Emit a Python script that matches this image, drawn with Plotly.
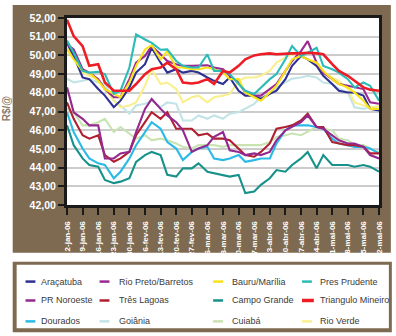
import plotly.graph_objects as go

# ---------------- data ----------------
dates = [
    "2006-01-02", "2006-01-05", "2006-01-09", "2006-01-12", "2006-01-16", "2006-01-19",
    "2006-01-23", "2006-01-26", "2006-01-30", "2006-02-02", "2006-02-06", "2006-02-09",
    "2006-02-13", "2006-02-16", "2006-02-20", "2006-02-23", "2006-02-27", "2006-03-02",
    "2006-03-06", "2006-03-09", "2006-03-13", "2006-03-16", "2006-03-20", "2006-03-23",
    "2006-03-27", "2006-03-30", "2006-04-03", "2006-04-06", "2006-04-10", "2006-04-13",
    "2006-04-17", "2006-04-20", "2006-04-24", "2006-04-27", "2006-05-01", "2006-05-04",
    "2006-05-08", "2006-05-11", "2006-05-15", "2006-05-18", "2006-05-22",
]

tick_dates = [
    "2006-01-02", "2006-01-09", "2006-01-16", "2006-01-23", "2006-01-30", "2006-02-06",
    "2006-02-13", "2006-02-20", "2006-02-27", "2006-03-06", "2006-03-13", "2006-03-20",
    "2006-03-27", "2006-04-03", "2006-04-10", "2006-04-17", "2006-04-24", "2006-05-01",
    "2006-05-08", "2006-05-15", "2006-05-22",
]
tick_labels = [
    "2-jan-06", "9-jan-06", "16-jan-06", "23-jan-06", "30-jan-06", "6-fev-06",
    "13-fev-06", "20-fev-06", "27-fev-06", "6-mar-06", "13-mar-06", "20-mar-06",
    "27-mar-06", "3-abr-06", "10-abr-06", "17-abr-06", "24-abr-06", "1-mai-06",
    "8-mai-06", "15-mai-06", "22-mai-06",
]

aracatuba = [50.67, 49.97, 48.82, 48.73, 48.20, 47.85, 47.23, 47.58, 48.29, 49.08,
             49.53, 50.41, 49.61, 49.08, 49.26, 49.08, 49.17, 49.08, 48.82, 48.64,
             48.47, 48.82, 48.11, 47.85, 47.85, 47.67, 47.94, 48.11, 48.73, 49.44,
             49.97, 49.79, 49.44, 48.91, 48.47, 48.11, 48.02, 48.02, 47.85, 47.14, 47.05]
rio_preto = [50.59, 50.32, 49.26, 49.08, 48.73, 48.20, 47.76, 47.76, 48.73, 49.61,
             49.97, 50.50, 50.06, 49.70, 49.53, 49.44, 49.44, 49.44, 49.47, 49.35,
             49.26, 48.91, 48.55, 48.02, 47.85, 47.85, 48.20, 48.47, 49.17, 49.70,
             50.23, 50.76, 49.61, 49.08, 48.73, 48.47, 48.38, 48.29, 48.20, 47.49, 47.41]
bauru = [50.32, 49.79, 49.17, 49.08, 48.64, 48.20, 47.94, 47.76, 48.55, 49.44,
         50.32, 50.55, 49.79, 50.23, 49.35, 49.35, 49.26, 49.26, 49.35, 49.26,
         49.08, 48.73, 48.73, 48.02, 47.76, 47.58, 48.02, 48.38, 49.17, 49.79,
         49.97, 49.79, 49.61, 49.17, 48.73, 48.47, 48.29, 48.02, 47.58, 47.14, 47.14]
pres_prudente = [50.80, 50.14, 49.17, 49.08, 49.12, 49.00, 47.94, 48.11, 49.35, 51.12,
                 50.85, 50.67, 50.30, 50.32, 49.70, 49.44, 49.35, 49.35, 50.06, 49.17,
                 49.17, 49.00, 48.47, 48.11, 47.94, 48.29, 48.73, 49.00, 49.79, 50.50,
                 49.97, 50.14, 50.41, 49.44, 49.26, 49.08, 48.73, 48.29, 48.55, 48.38, 47.58]
pr_noroeste = [48.29, 46.96, 46.61, 46.26, 46.26, 44.49, 44.49, 44.76, 44.84, 45.90,
               47.14, 47.67, 47.14, 46.79, 46.43, 45.99, 44.84, 45.02, 45.20, 45.64,
               45.90, 44.93, 44.84, 44.67, 44.76, 44.67, 44.84, 45.46, 45.99, 46.17,
               46.43, 46.79, 46.17, 46.08, 45.73, 45.46, 45.29, 45.29, 45.11, 44.67, 44.49]
tres_lagoas = [47.49, 46.61, 45.73, 45.55, 45.73, 44.67, 44.31, 44.49, 44.84, 45.73,
               46.43, 46.96, 46.61, 46.96, 46.08, 46.08, 46.08, 45.73, 45.82, 45.55,
               45.55, 45.46, 45.02, 44.67, 44.58, 44.84, 45.29, 46.08, 46.17, 46.26,
               46.52, 46.88, 46.17, 46.17, 45.37, 45.29, 45.20, 45.20, 45.11, 44.76, 44.76]
campo_grande = [46.26, 45.20, 44.49, 44.14, 44.05, 43.34, 43.17, 43.25, 43.43, 44.31,
                44.67, 44.84, 44.67, 43.61, 43.52, 43.96, 43.96, 44.23, 43.78, 43.70,
                43.61, 43.52, 43.61, 42.64, 42.72, 43.08, 43.43, 43.87, 43.78, 44.14,
                44.49, 44.84, 43.96, 44.67, 44.14, 44.14, 44.14, 44.05, 44.14, 44.05, 43.78]
triangulo = [51.91, 51.03, 50.50, 49.44, 49.53, 48.55, 48.11, 48.11, 48.11, 48.47,
             49.00, 49.26, 49.35, 49.61, 49.26, 48.55, 48.50, 48.55, 48.73, 48.47,
             49.17, 49.08, 49.44, 49.79, 50.00, 50.06, 50.11, 50.06, 50.11, 50.11,
             50.11, 50.14, 50.11, 50.06, 49.53, 49.17, 48.91, 48.64, 48.29, 48.17, 48.11]
dourados = [46.96, 45.90, 45.02, 44.49, 44.23, 44.14, 43.43, 43.78, 44.49, 45.20,
            45.90, 46.43, 46.08, 45.37, 45.02, 44.40, 44.84, 45.02, 45.11, 44.49,
            44.40, 44.49, 44.67, 44.31, 44.40, 44.49, 44.49, 45.29, 45.99, 46.26,
            46.26, 46.26, 46.17, 46.08, 45.55, 45.29, 45.20, 45.11, 45.11, 45.02, 44.76]
goiania = [48.75, 48.55, 48.64, 48.73, 48.55, 48.47, 47.58, 47.32, 46.88, 47.32,
           47.41, 47.58, 47.23, 47.49, 47.41, 46.52, 46.52, 46.79, 46.61, 46.79,
           46.61, 46.88, 46.96, 47.14, 47.41, 47.76, 47.94, 48.29, 48.55, 48.76,
           48.82, 48.91, 48.82, 48.55, 48.47, 48.20, 48.02, 47.23, 47.14, 47.23, 47.14]
cuiaba = [47.14, 46.96, 46.26, 46.26, 46.43, 46.61, 45.90, 46.17, 45.82, 45.55,
          45.73, 45.46, 45.55, 45.46, 45.29, 45.11, 45.02, 45.20, 45.20, 45.20,
          45.11, 45.20, 45.20, 45.20, 45.20, 45.20, 45.37, 45.64, 45.73, 45.82,
          45.73, 45.90, 46.17, 46.08, 45.99, 45.55, 45.46, 45.20, 45.20, 45.02, 44.84]
rio_verde = [50.41, 49.97, 49.08, 48.91, 48.73, 48.20, 47.58, 47.23, 47.32, 47.49,
             48.38, 49.26, 48.47, 48.55, 48.20, 47.49, 47.76, 47.85, 47.49, 47.76,
             47.85, 47.94, 48.64, 48.82, 48.82, 48.91, 49.17, 49.61, 49.88, 50.06,
             49.97, 49.79, 49.44, 49.08, 48.82, 48.64, 48.20, 47.49, 47.32, 47.23, 47.28]

# name, values, colour  (drawing order: light lines first, red on top)
series = [
    ("Goiânia", goiania, "#c2e4e6"),
    ("Rio Verde", rio_verde, "#f9ef8e"),
    ("Cuiabá", cuiaba, "#c9e3b3"),
    ("Campo Grande", campo_grande, "#16928a"),
    ("Dourados", dourados, "#2bb9e8"),
    ("Três Lagoas", tres_lagoas, "#b01f30"),
    ("PR Noroeste", pr_noroeste, "#93288f"),
    ("Araçatuba", aracatuba, "#2e3192"),
    ("Rio Preto/Barretos", rio_preto, "#9a2a92"),
    ("Bauru/Marília", bauru, "#f7e318"),
    ("Pres Prudente", pres_prudente, "#2bbcb8"),
    ("Triangulo Mineiro", triangulo, "#ee1c25"),
]
colors = {n: c for n, _, c in series}

legend_grid = [
    ["Araçatuba", "Rio Preto/Barretos", "Bauru/Marília", "Pres Prudente"],
    ["PR Noroeste", "Três Lagoas", "Campo Grande", "Triangulo Mineiro"],
    ["Dourados", "Goiânia", "Cuiabá", "Rio Verde"],
]

# ---------------- layout geometry (pixels) ----------------
W_TOT, H_TOT = 396, 336
L, R, T, B = 67, 13, 17, 131
PW, PH = W_TOT - L - R, H_TOT - T - B


def px(x):
    return (x - L) / PW


def py(y):
    return (H_TOT - B - y) / PH


BROWN = "#7e6a50"
NARROW = "Liberation Sans Narrow, Arial Narrow, Liberation Sans, sans-serif"

fig = go.Figure()
for name, vals, col in series:
    fig.add_trace(go.Scatter(
        x=dates, y=vals, name=name, mode="lines",
        line=dict(color=col, width=2.6 if name == "Triangulo Mineiro" else 2.1),
        showlegend=False, hoverinfo="skip",
    ))

shapes = [
    # brown chart panel
    dict(type="rect", xref="paper", yref="paper", x0=px(12), x1=px(395), y0=py(253), y1=py(4),
         fillcolor=BROWN, line=dict(width=0), layer="below"),
    # white plotting area
    dict(type="rect", xref="paper", yref="paper", x0=0, x1=1, y0=0, y1=1,
         fillcolor="white", line=dict(width=0), layer="below"),
    # legend box
    dict(type="rect", xref="paper", yref="paper", x0=px(12), x1=px(396), y0=py(333), y1=py(262),
         fillcolor=BROWN, line=dict(width=0), layer="below"),
    dict(type="rect", xref="paper", yref="paper", x0=px(16), x1=px(393), y0=py(329), y1=py(265),
         fillcolor="white", line=dict(width=0), layer="below"),
]

annotations = [
    dict(text="<b>R$/@</b>", x=px(6), y=py(108), xref="paper", yref="paper", showarrow=False,
         textangle=-90, font=dict(family=NARROW, size=10, color="#8a7a68"),
         xanchor="center", yanchor="middle"),
]

col_line_x = [25, 100, 215, 305]
col_text_x = [39, 118, 232, 321]
row_y = [282, 301, 322]
for r, row in enumerate(legend_grid):
    for c, name in enumerate(row):
        lw = 3.5 if name == "Triangulo Mineiro" else 2.5
        ll = 12 if name == "Triangulo Mineiro" else 10
        shapes.append(dict(type="line", xref="paper", yref="paper",
                           x0=px(col_line_x[c]), x1=px(col_line_x[c] + ll),
                           y0=py(row_y[r]), y1=py(row_y[r]),
                           line=dict(color=colors[name], width=lw)))
        annotations.append(dict(text=name, x=px(col_text_x[c]), y=py(row_y[r]),
                                xref="paper", yref="paper", showarrow=False,
                                xanchor="left", yanchor="middle",
                                font=dict(family=NARROW, size=9, color="#3a3a3a")))

fig.update_layout(
    width=W_TOT, height=H_TOT,
    margin=dict(l=L, r=R, t=T, b=B, pad=0),
    paper_bgcolor="white", plot_bgcolor="white",
    separators=",.",
    shapes=shapes, annotations=annotations,
    showlegend=False,
    xaxis=dict(
        type="date", range=[tick_dates[0], tick_dates[-1]],
        tickmode="array", tickvals=tick_dates, ticktext=tick_labels,
        tickangle=-90, ticks="outside", ticklen=7, tickwidth=2, tickcolor="#1a1a1a",
        ticklabelstandoff=3,
        tickfont=dict(family=NARROW, size=8, color="white", weight="bold"),
        showgrid=False, zeroline=False,
        showline=True, mirror=True, linecolor="#1a1a1a", linewidth=3,
    ),
    yaxis=dict(
        range=[42, 52], tickmode="array", tickvals=list(range(42, 53)),
        tickformat=".2f", ticks="outside", ticklen=6, tickwidth=2, tickcolor="#1a1a1a",
        tickfont=dict(family=NARROW, size=10.5, color="white", weight="bold"),
        showgrid=True, gridcolor="#cccccc", gridwidth=2, zeroline=False,
        showline=True, mirror=True, linecolor="#1a1a1a", linewidth=3,
    ),
)

fig.write_html("out.html")
